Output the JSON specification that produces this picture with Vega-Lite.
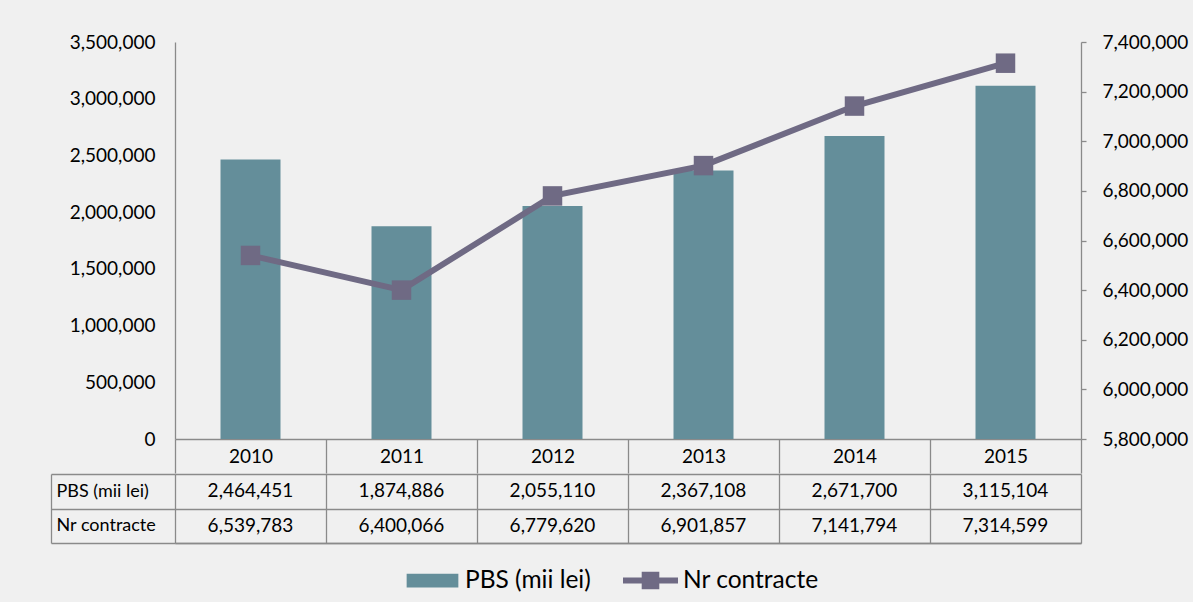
{
  "$schema": "https://vega.github.io/schema/vega-lite/v6.json",
  "background": "#f0f0f0",
  "padding": {"left": 50, "top": 33, "right": 10, "bottom": 10},
  "spacing": -9,
  "config": {
    "font": "Lato",
    "view": {"stroke": null},
    "axis": {"labelFont": "Lato", "labelFontSize": 19, "labelColor": "#000000", "domainColor": "#8a8a8a", "tickColor": "#8a8a8a", "gridColor": "#8a8a8a", "domainWidth": 1.3, "tickWidth": 1.3, "gridWidth": 1.3, "title": null}
  },
  "datasets": {
    "main": [
      {"year": "2010", "pbs": 2464451, "nr": 6539783},
      {"year": "2011", "pbs": 1874886, "nr": 6400066},
      {"year": "2012", "pbs": 2055110, "nr": 6779620},
      {"year": "2013", "pbs": 2367108, "nr": 6901857},
      {"year": "2014", "pbs": 2671700, "nr": 7141794},
      {"year": "2015", "pbs": 3115104, "nr": 7314599}
    ]
  },
  "vconcat": [
    {
      "width": 906,
      "height": 397,
      "data": {"name": "main"},
      "encoding": {
        "x": {"field": "year", "type": "ordinal", "scale": {"paddingInner": 0, "paddingOuter": 0},
          "axis": {"orient": "bottom", "tickBand": "extent", "tickSize": 34, "labelAngle": 0, "labelBaseline": "middle", "labelPadding": -17, "grid": false, "title": null}}
      },
      "layer": [
        {
          "mark": {"type": "bar", "width": 60},
          "encoding": {
            "y": {"field": "pbs", "type": "quantitative", "scale": {"domain": [0, 3500000], "nice": false},
              "axis": {"orient": "left", "values": [0, 500000, 1000000, 1500000, 2000000, 2500000, 3000000, 3500000], "labelExpr": "format(datum.value, ',')", "ticks": false, "labelPadding": 20, "grid": false, "title": null}},
            "color": {"datum": "PBS (mii lei)", "type": "nominal",
              "scale": {"domain": ["PBS (mii lei)", "Nr contracte"], "range": ["#648e9a", "#6f6a84"]},
              "legend": {"orient": "none", "legendX": 230, "legendY": 511, "direction": "horizontal", "title": null,
                "symbolSize": 3025, "labelFontSize": 24.5, "labelFont": "Lato", "labelColor": "#000000", "labelOffset": 5, "columnPadding": 32,
                "encode": {"symbols": {"update": {
                  "shape": {"signal": "datum.value === 'PBS (mii lei)' ? 'M-0.94,-0.25H0.94V0.25H-0.94Z' : 'M-1,-0.11H-0.32V-0.32H0.32V-0.11H1V0.11H0.32V0.32H-0.32V0.11H-1Z'"},
                  "fill": {"signal": "datum.value === 'PBS (mii lei)' ? '#648e9a' : '#6f6a84'"},
                  "stroke": {"value": "transparent"},
                  "strokeWidth": {"value": 0},
                  "opacity": {"value": 1}
                }}}
              }}
          }
        },
        {
          "encoding": {
            "y": {"field": "nr", "type": "quantitative", "scale": {"domain": [5800000, 7400000], "nice": false},
              "axis": {"orient": "right", "values": [5800000, 6000000, 6200000, 6400000, 6600000, 6800000, 7000000, 7200000, 7400000], "labelExpr": "format(datum.value, ',')", "tickSize": 5, "labelPadding": 16, "grid": false, "title": null}},
            "color": {"datum": "Nr contracte", "type": "nominal"}
          },
          "layer": [
            {"mark": {"type": "line", "strokeWidth": 6}},
            {"mark": {"type": "point", "shape": "square", "filled": true, "size": 380, "opacity": 1}}
          ]
        }
      ],
      "resolve": {"scale": {"y": "independent"}}
    },
    {
      "width": 906,
      "height": 69,
      "data": {"name": "main"},
      "transform": [{"fold": ["pbs", "nr"], "as": ["key", "value"]}],
      "mark": {"type": "text", "fontSize": 19, "color": "#000000", "font": "Lato"},
      "encoding": {
        "x": {"field": "year", "type": "ordinal", "scale": {"paddingInner": 0, "paddingOuter": 0},
          "axis": {"orient": "bottom", "labels": false, "ticks": false, "domain": true, "grid": true, "tickBand": "extent", "title": null}},
        "y": {"field": "key", "type": "nominal", "sort": ["pbs", "nr"], "scale": {"paddingInner": 0, "paddingOuter": 0},
          "axis": {"orient": "left", "offset": 124, "tickBand": "extent", "tickSize": -124, "grid": true, "labelAlign": "left", "labelPadding": 119, "labelFontSize": 18,
            "labelExpr": "datum.value == 'pbs' ? 'PBS (mii lei)' : (datum.value == 'nr' ? 'Nr contracte' : '')", "title": null}},
        "text": {"field": "value", "type": "quantitative", "format": ","}
      }
    }
  ]
}
